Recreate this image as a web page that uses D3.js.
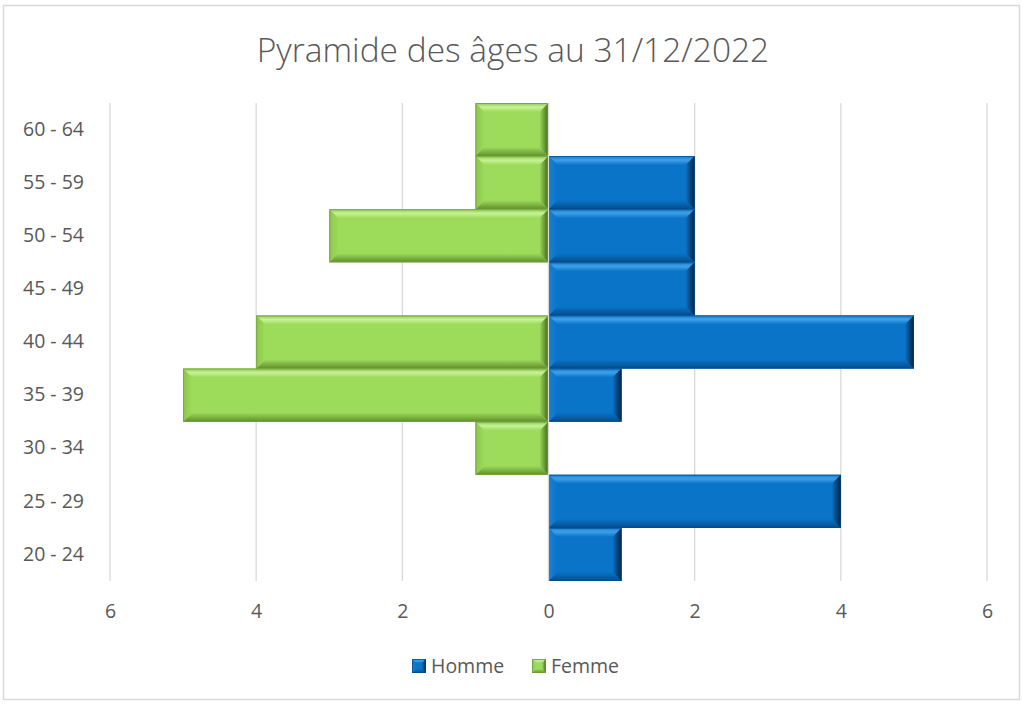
<!DOCTYPE html>
<html>
<head>
<meta charset="utf-8">
<script src="https://cdn.jsdelivr.net/npm/d3@7"></script>
<style>
  body { margin: 0; background: #fff; }
  text { font-family: "Open Sans", "Noto Sans", sans-serif; }
</style>
</head>
<body>
<svg class="pyramid"></svg>
<script>
const ageGroups = ['20 - 24', '25 - 29', '30 - 34', '35 - 39', '40 - 44', '45 - 49', '50 - 54', '55 - 59', '60 - 64'];
const homme = [1, 4, 0, 1, 5, 2, 2, 2, 0];
const femme = [0, 0, 1, 5, 4, 0, 3, 1, 1];
const xTicks = [-6, -4, -2, 0, 2, 4, 6];
const seriesNames = ['Homme', 'Femme'];

const config = {
  width: 1023, height: 704,
  plot: { left: 110, right: 987, top: 103, bottom: 581 }
};

const palette = {
  Homme: { base: '#0a74c9', light: '#3ea0e8', mid: '#1a80d2', dark: '#044d8a', darkest: '#011d38', edge: '#03498a' },
  Femme: { base: '#9ddb5b', light: '#c8f296', mid: '#8cc64c', dark: '#5f8e2c', darkest: '#3f6418', edge: '#6f9d3a' }
};

const svg = d3.select('.pyramid')
  .attr('width', config.width)
  .attr('height', config.height);

// gradients for the bevel sides
const defs = svg.append('defs');
function grad(id, x2, y2, stops) {
  const g = defs.append('linearGradient').attr('id', id)
    .attr('x1', 0).attr('y1', 0).attr('x2', x2).attr('y2', y2);
  stops.forEach(s => g.append('stop').attr('offset', s[0]).attr('stop-color', s[1]));
}
seriesNames.forEach(name => {
  const c = palette[name];
  grad(name + '-top', 0, 1, [[0, c.mid], [0.45, c.light], [1, c.base]]);
  grad(name + '-bottom', 0, 1, [[0, c.base], [1, c.dark]]);
  grad(name + '-left', 1, 0, [[0, c.mid], [1, c.base]]);
  grad(name + '-right', 1, 0, [[0, c.base], [1, c.darkest]]);
});

// chart frame
svg.append('rect')
  .attr('x', 3.5).attr('y', 5.5)
  .attr('width', 1016).attr('height', 694)
  .style('fill', '#fff').style('stroke', '#d9d9d9').style('stroke-width', 1.5);

svg.append('text')
  .attr('x', 513).attr('y', 62)
  .attr('text-anchor', 'middle')
  .style('font-size', '33.5px').style('font-weight', 300).style('fill', '#595959')
  .text('Pyramide des âges au 31/12/2022');

const x = d3.scaleLinear().domain([-6, 6]).range([config.plot.left, config.plot.right]);
const y = d3.scaleBand().domain(ageGroups.slice().reverse())
  .range([config.plot.top, config.plot.bottom]).paddingInner(0).paddingOuter(0);

// gridlines
svg.append('g').selectAll('line')
  .data(xTicks)
  .enter().append('line')
  .attr('x1', d => x(d)).attr('x2', d => x(d))
  .attr('y1', config.plot.top).attr('y2', config.plot.bottom)
  .style('stroke', '#d9d9d9').style('stroke-width', 1.3);

// x axis labels
const xAxis = d3.axisBottom(x).tickValues(xTicks).tickFormat(d => Math.abs(d)).tickSize(0).tickPadding(23);
const gx = svg.append('g').attr('transform', `translate(0,${config.plot.bottom})`).call(xAxis);
gx.select('.domain').remove();
gx.selectAll('text').style('font-size', '19.5px').style('fill', '#595959').style('font-family', '"Open Sans", sans-serif');

// y axis labels
const yAxis = d3.axisLeft(y).tickSize(0).tickPadding(26);
const gy = svg.append('g').attr('transform', `translate(${config.plot.left},0)`).call(yAxis);
gy.select('.domain').remove();
gy.selectAll('text').style('font-size', '19.5px').style('fill', '#595959').style('font-family', '"Open Sans", sans-serif');

const rows = [];
ageGroups.forEach((g, i) => {
  if (homme[i] > 0) rows.push({ group: g, series: 'Homme', x0: x(0), x1: x(homme[i]) });
  if (femme[i] > 0) rows.push({ group: g, series: 'Femme', x0: x(-femme[i]), x1: x(0) });
});

function bevel(sel, x0, y0, w, h, name, b) {
  const c = palette[name];
  const x1 = x0 + w, y1 = y0 + h;
  sel.append('rect').attr('x', x0).attr('y', y0).attr('width', w).attr('height', h).style('fill', c.base);
  const poly = (pts, side) => sel.append('polygon')
    .attr('points', pts.map(p => p.join(',')).join(' '))
    .style('fill', `url(#${name}-${side})`);
  poly([[x0, y0], [x1, y0], [x1 - b, y0 + b], [x0 + b, y0 + b]], 'top');
  poly([[x0, y1], [x0 + b, y1 - b], [x1 - b, y1 - b], [x1, y1]], 'bottom');
  poly([[x0, y0], [x0 + b, y0 + b], [x0 + b, y1 - b], [x0, y1]], 'left');
  poly([[x1, y0], [x1, y1], [x1 - b, y1 - b], [x1 - b, y0 + b]], 'right');
  sel.append('rect').attr('x', x0 + 0.5).attr('y', y0 + 0.5).attr('width', w - 1).attr('height', h - 1)
    .style('fill', 'none').style('stroke', c.edge).style('stroke-width', 1).style('stroke-opacity', 0.7);
}

svg.append('g').selectAll('g')
  .data(rows)
  .enter().append('g')
  .each(function(d) {
    bevel(d3.select(this), d.x0, y(d.group), d.x1 - d.x0, y.bandwidth(), d.series, 9);
  });

// axis line at 0
svg.append('line')
  .attr('x1', x(0)).attr('x2', x(0))
  .attr('y1', config.plot.top).attr('y2', config.plot.bottom)
  .style('stroke', '#d9d9d9').style('stroke-width', 1.3);

// legend
const legend = svg.append('g').attr('transform', 'translate(412,659)');
const legendX = [0, 120];
seriesNames.forEach((name, i) => {
  const item = legend.append('g').attr('transform', `translate(${legendX[i]},0)`);
  bevel(item, 0, 0, 14, 14, name, 4);
  item.append('text').attr('x', 19).attr('y', 7).attr('dy', '0.35em')
    .style('font-size', '19.5px').style('fill', '#595959').text(name);
});
</script>
</body>
</html>
